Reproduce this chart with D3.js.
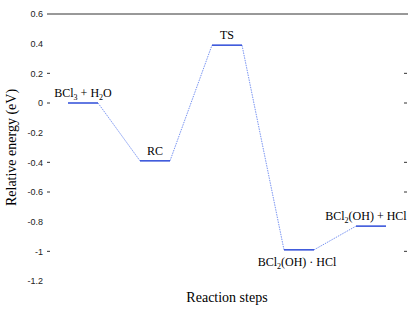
<!DOCTYPE html>
<html>
<head>
<meta charset="utf-8">
<script src="https://cdn.jsdelivr.net/npm/d3@7"></script>
<style>
  body { margin: 0; background: #fff; }
  .tick text { font-family: "Liberation Sans", Arial, sans-serif; font-size: 9px; fill: #222; }
  .lbl { font-family: "Liberation Serif", "Times New Roman", serif; fill: #000; }
</style>
</head>
<body>
<svg id="chart"></svg>
<script>
// data
const steps = ["BCl3 + H2O", "RC", "TS", "BCl2(OH) · HCl", "BCl2(OH) + HCl"];
const energies = [0, -0.39, 0.39, -0.99, -0.83];
const labelSide = ["above", "above", "above", "below", "above"];
const yTicks = [0.6, 0.4, 0.2, 0, -0.2, -0.4, -0.6, -0.8, -1, -1.2];
const markedTicks = [0.2, 0, -0.4, -0.6, -1];

// pieces of each label: [text, isSub]
const labelParts = [
    [["BCl", 0], ["3", 1], [" + H", 0], ["2", 1], ["O", 0]],
    [["RC", 0]],
    [["TS", 0]],
    [["BCl", 0], ["2", 1], ["(OH) · HCl", 0]],
    [["BCl", 0], ["2", 1], ["(OH) + HCl", 0]]
];

const W = 414, H = 309;
const mLeft = 47, mRight = 407, mTop = 14;

const svg = d3.select("#chart").attr("width", W).attr("height", H);

const x = d3.scaleLinear().domain([0, steps.length]).range([mLeft, mRight]);
const y = d3.scaleLinear().domain([0.6, -1.2]).range([mTop, mTop + 267]);
const halfW = 15;

// top frame line
svg.append("line")
    .attr("x1", mLeft).attr("x2", W - 6)
    .attr("y1", y(0.6)).attr("y2", y(0.6))
    .attr("stroke", "#333").attr("stroke-width", 1);

// tick labels
const axisL = d3.axisLeft(y).tickValues(yTicks).tickSize(0).tickPadding(4)
    .tickFormat(d => d === 0 ? "0" : String(+d.toFixed(1)));
svg.append("g")
    .attr("transform", `translate(${mLeft},0)`)
    .call(axisL)
    .call(g => g.select(".domain").remove());

// small tick marks, both sides
svg.append("g").selectAll("line").data(markedTicks).join("line")
    .attr("x1", mLeft).attr("x2", mLeft + 3)
    .attr("y1", d => y(d)).attr("y2", d => y(d))
    .attr("stroke", "#333");
svg.append("g").selectAll("line").data(markedTicks).join("line")
    .attr("x1", mRight - 3).attr("x2", mRight)
    .attr("y1", d => y(d)).attr("y2", d => y(d))
    .attr("stroke", "#333");

// dotted connectors
const conn = d3.pairs(d3.range(steps.length));
svg.append("g").selectAll("line").data(conn).join("line")
    .attr("x1", ([a]) => x(a + 0.5) + halfW)
    .attr("y1", ([a]) => y(energies[a]))
    .attr("x2", ([, b]) => x(b + 0.5) - halfW)
    .attr("y2", ([, b]) => y(energies[b]))
    .attr("stroke", "#5577ee")
    .attr("stroke-width", 0.8)
    .attr("stroke-dasharray", "1.5,1");

// energy levels
svg.append("g").selectAll("line").data(energies).join("line")
    .attr("x1", (d, i) => x(i + 0.5) - halfW)
    .attr("x2", (d, i) => x(i + 0.5) + halfW)
    .attr("y1", d => y(d)).attr("y2", d => y(d))
    .attr("stroke", "#1f3fd6")
    .attr("stroke-width", 1.4);

// level labels
const lbls = svg.append("g").selectAll("text").data(labelParts).join("text")
    .attr("class", "lbl")
    .style("font-size", "12px")
    .attr("text-anchor", "middle")
    .attr("x", (d, i) => x(i + 0.5) + (i === 3 ? -2 : i === 4 ? -5 : 0))
    .attr("y", (d, i) => y(energies[i]) + (labelSide[i] === "above" ? -6 : 16));
lbls.each(function(parts) {
    const t = d3.select(this);
    parts.forEach(([s, sub]) => {
        t.append("tspan")
            .style("font-size", sub ? "8px" : "12px")
            .attr("baseline-shift", sub ? "-3" : null)
            .text(s);
    });
});

// axis titles
svg.append("text")
    .attr("class", "lbl")
    .style("font-size", "14px")
    .attr("text-anchor", "middle")
    .attr("transform", `translate(16,${y(-0.3)}) rotate(-90)`)
    .text("Relative energy (eV)");
svg.append("text")
    .attr("class", "lbl")
    .style("font-size", "14px")
    .attr("text-anchor", "middle")
    .attr("x", (mLeft + mRight) / 2)
    .attr("y", 302)
    .text("Reaction steps");
</script>
</body>
</html>
